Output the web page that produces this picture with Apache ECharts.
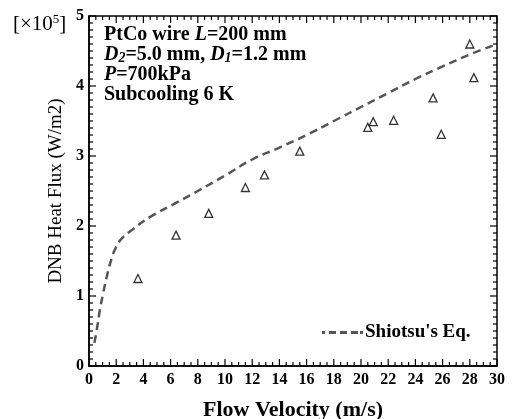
<!DOCTYPE html>
<html><head><meta charset="utf-8">
<script src="https://cdn.jsdelivr.net/npm/echarts@6/dist/echarts.min.js"></script>
<style>html,body{margin:0;padding:0;background:#fff}#c{width:513px;height:419px}</style>
</head><body><div id="c"></div>
<script>
const expVelocity = [3.6, 6.4, 8.8, 11.5, 12.9, 15.5, 20.5, 20.9, 22.4, 25.3, 25.9, 28.0, 28.3];
const expHeatFlux = [1.25, 1.87, 2.18, 2.55, 2.73, 3.07, 3.41, 3.49, 3.51, 3.83, 3.31, 4.60, 4.12];
const eqVelocity = [0.4, 0.6, 0.8, 1.0, 1.3, 1.7, 2.0, 2.4, 3.2, 4.5, 6.5, 8, 10, 12, 14, 16, 18, 20, 22, 24, 26, 28, 30];
const eqHeatFlux = [0.33, 0.55, 0.8, 1.0, 1.27, 1.56, 1.7, 1.82, 1.95, 2.13, 2.34, 2.5, 2.72, 2.95, 3.12, 3.3, 3.5, 3.7, 3.9, 4.1, 4.28, 4.45, 4.6];
const xTicks = [0, 2, 4, 6, 8, 10, 12, 14, 16, 18, 20, 22, 24, 26, 28, 30];
const yTicks = [0, 1, 2, 3, 4, 5];
const xMinorPerMajor = 4;
const yMinorPerMajor = 10;

const font = 'Liberation Serif';
const X_MIN = 0, X_MAX = 30, Y_MIN = 0, Y_MAX = 5;

// tick marks (major + minor) on all four sides, placed through the axis scales
const tickData = [];
xTicks.forEach((v, i) => {
  tickData.push([v, 0, 1]);
  if (i < xTicks.length - 1) {
    const step = (xTicks[i + 1] - v) / xMinorPerMajor;
    for (let k = 1; k < xMinorPerMajor; k++) tickData.push([v + k * step, 0, 0]);
  }
});
yTicks.forEach((v, i) => {
  tickData.push([v, 1, 1]);
  if (i < yTicks.length - 1) {
    const step = (yTicks[i + 1] - v) / yMinorPerMajor;
    for (let k = 1; k < yMinorPerMajor; k++) tickData.push([v + k * step, 1, 0]);
  }
});

function renderTick(params, api) {
  const v = api.value(0), isY = api.value(1), major = api.value(2);
  const L = major ? 7 : 4;
  const st = {stroke: '#000', lineWidth: 1.2};
  if (!isY) {
    const b = api.coord([v, Y_MIN]), t = api.coord([v, Y_MAX]);
    return {type: 'group', children: [
      {type: 'line', shape: {x1: b[0], y1: b[1], x2: b[0], y2: b[1] - L}, style: st},
      {type: 'line', shape: {x1: t[0], y1: t[1], x2: t[0], y2: t[1] + L}, style: st}
    ]};
  }
  const l = api.coord([X_MIN, v]), r = api.coord([X_MAX, v]);
  return {type: 'group', children: [
    {type: 'line', shape: {x1: l[0], y1: l[1], x2: l[0] + L, y2: l[1]}, style: st},
    {type: 'line', shape: {x1: r[0], y1: r[1], x2: r[0] - L, y2: r[1]}, style: st}
  ]};
}

const chart = echarts.init(document.getElementById('c'));
chart.setOption({
  animation: false,
  grid: {left: 89, right: 16, top: 16, bottom: 53, outerBoundsMode: 'none',
    show: true, borderColor: '#000', borderWidth: 1.5, backgroundColor: 'transparent'},
  xAxis: {
    type: 'value', min: X_MIN, max: X_MAX, interval: 2, position: 'bottom',
    axisLine: {lineStyle: {color: '#000', width: 1.5}}, splitLine: {show: false},
    axisTick: {show: false}, minorTick: {show: false},
    axisLabel: {color: '#000', fontFamily: font, fontWeight: 'bold', fontSize: 16, margin: 6,
      formatter: v => xTicks.includes(v) ? String(v) : ''},
    name: 'Flow Velocity (m/s)', nameLocation: 'middle', nameGap: 33,
    nameTextStyle: {color: '#000', fontFamily: font, fontWeight: 'bold', fontSize: 22}
  },
  yAxis: {
    type: 'value', min: Y_MIN, max: Y_MAX, interval: 1, position: 'left',
    axisLine: {show: true, lineStyle: {color: '#000', width: 1.5}}, splitLine: {show: false},
    axisTick: {show: false}, minorTick: {show: false},
    axisLabel: {color: '#000', fontFamily: font, fontWeight: 'bold', fontSize: 16, margin: 5,
      formatter: v => yTicks.includes(v) ? String(v) : ''},
    name: 'DNB Heat Flux (W/m2)', nameLocation: 'middle', nameGap: 8, nameRotate: 90,
    nameTextStyle: {color: '#000', fontFamily: font, fontSize: 19}
  },
  legend: {
    left: 322, top: 323, itemWidth: 41, itemHeight: 3, padding: 0,
    icon: 'path://M0,0h3v3h-3z M7,0h7v3h-7z M18,0h7v3h-7z M29,0h7v3h-7z M38,0h3v3h-3z',
    itemStyle: {color: '#555'},
    data: [{name: "Shiotsu's Eq."}],
    textStyle: {color: '#000', fontFamily: font, fontWeight: 'bold', fontSize: 19, padding: [0,0,0,-3]}
  },
  series: [
    {
      name: 'ticks', type: 'custom', silent: true, clip: false, z: 5,
      data: tickData, renderItem: renderTick
    },
    {
      name: "Shiotsu's Eq.", type: 'line', smooth: true, symbol: 'none',
      data: eqVelocity.map((v, i) => [v, eqHeatFlux[i]]),
      itemStyle: {color: '#555'},
      lineStyle: {color: '#555', width: 2.5, type: [8, 5]}
    },
    {
      name: 'Experiment', type: 'scatter', symbol: 'triangle', symbolSize: 8,
      data: expVelocity.map((v, i) => [v, expHeatFlux[i]]),
      itemStyle: {color: 'rgba(255,255,255,0)', borderColor: '#000', borderWidth: 1.3}
    }
  ],
  graphic: [
    {
      type: 'text', left: 13, top: 13,
      style: {
        text: '[×10{sup|5}]',
        fontFamily: font, fontSize: 21, fill: '#000',
        rich: {sup: {fontFamily: font, fontSize: 13, verticalAlign: 'top', lineHeight: 23}}
      }
    },
    {
      type: 'text', left: 104, top: 25,
      style: {
        text: 'PtCo wire {i|L}=200 mm\n{i|D}{s|2}=5.0 mm, {i|D}{s|1}=1.2 mm\n{i|P}=700kPa\nSubcooling 6 K',
        fontFamily: font, fontSize: 20, fontWeight: 'bold', fill: '#000', lineHeight: 20,
        rich: {
          i: {fontFamily: font, fontSize: 20, fontWeight: 'bold', fontStyle: 'italic', lineHeight: 20},
          s: {fontFamily: font, fontSize: 14, fontWeight: 'bold', fontStyle: 'italic', verticalAlign: 'bottom', lineHeight: 20}
        }
      }
    }
  ]
});
</script></body></html>
